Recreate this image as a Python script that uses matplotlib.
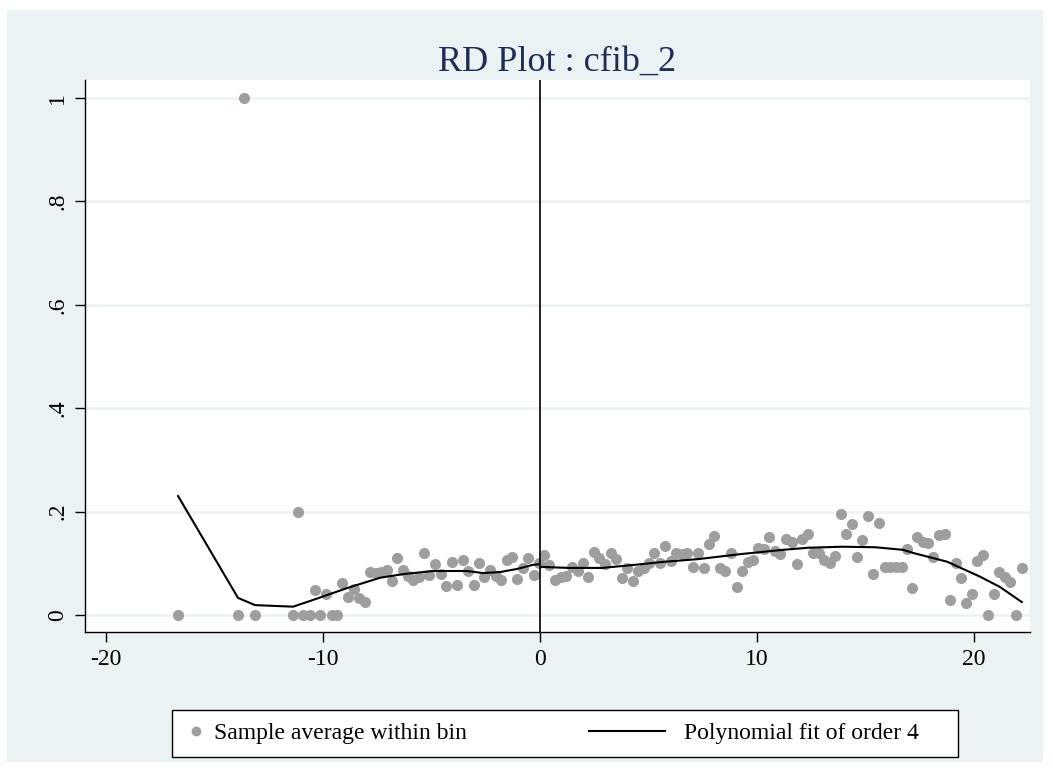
import matplotlib.pyplot as plt
from matplotlib.patches import Rectangle
from matplotlib.lines import Line2D

plt.rcParams["font.family"] = ["Liberation Serif", "DejaVu Serif"]
plt.rcParams["axes.unicode_minus"] = False

# ------------------------
# Bin averages of cfib_2 by running variable
# ------------------------
bin_x = [
    -16.68, -13.92, -13.64, -13.13, -11.38, -11.15, -10.92, -10.60, -10.37, -10.14,
    -9.86, -9.59, -9.35, -9.12, -8.85, -8.57, -8.34, -8.06, -7.83, -7.56,
    -7.33, -7.05, -6.82, -6.59, -6.31, -6.08, -5.85, -5.58, -5.35, -5.12,
    -4.84, -4.56, -4.33, -4.06, -3.82, -3.55, -3.32, -3.04, -2.81, -2.58,
    -2.30, -2.03, -1.80, -1.52, -1.29, -1.06, -0.78, -0.55, -0.28, -0.05,
    0.18, 0.41, 0.69, 0.97, 1.20, 1.47, 1.75, 1.98, 2.21, 2.49,
    2.72, 3.00, 3.27, 3.50, 3.78, 4.01, 4.29, 4.52, 4.79, 5.02,
    5.25, 5.53, 5.76, 6.04, 6.27, 6.54, 6.77, 7.05, 7.28, 7.56,
    7.79, 8.02, 8.29, 8.53, 8.80, 9.08, 9.31, 9.59, 9.82, 10.05,
    10.32, 10.55, 10.83, 11.06, 11.34, 11.61, 11.84, 12.07, 12.35, 12.58,
    12.86, 13.09, 13.36, 13.59, 13.87, 14.10, 14.38, 14.61, 14.84, 15.12,
    15.35, 15.62, 15.90, 16.13, 16.41, 16.68, 16.91, 17.14, 17.37, 17.65,
    17.88, 18.11, 18.39, 18.66, 18.89, 19.17, 19.40, 19.63, 19.91, 20.14,
    20.41, 20.65, 20.92, 21.15, 21.43, 21.66, 21.94, 22.21,
]
bin_y = [
    0.0, 0.0, 1.0, 0.0, 0.0, 0.2, 0.0, 0.0, 0.048, 0.0,
    0.041, 0.0, 0.0, 0.062, 0.035, 0.050, 0.033, 0.025, 0.083, 0.081,
    0.083, 0.087, 0.066, 0.110, 0.087, 0.075, 0.068, 0.073, 0.120, 0.077,
    0.099, 0.079, 0.056, 0.103, 0.058, 0.106, 0.085, 0.058, 0.101, 0.073,
    0.087, 0.075, 0.068, 0.106, 0.112, 0.070, 0.091, 0.110, 0.077, 0.101,
    0.116, 0.097, 0.068, 0.074, 0.075, 0.093, 0.085, 0.101, 0.073, 0.122,
    0.110, 0.099, 0.120, 0.108, 0.072, 0.091, 0.066, 0.085, 0.091, 0.101,
    0.120, 0.101, 0.133, 0.104, 0.120, 0.118, 0.120, 0.093, 0.120, 0.091,
    0.137, 0.153, 0.091, 0.085, 0.120, 0.054, 0.085, 0.103, 0.106, 0.130,
    0.128, 0.151, 0.124, 0.118, 0.147, 0.141, 0.099, 0.147, 0.157, 0.120,
    0.120, 0.106, 0.101, 0.114, 0.195, 0.157, 0.176, 0.112, 0.145, 0.191,
    0.079, 0.178, 0.093, 0.093, 0.093, 0.093, 0.128, 0.052, 0.151, 0.141,
    0.139, 0.112, 0.155, 0.157, 0.029, 0.101, 0.072, 0.023, 0.041, 0.104,
    0.116, 0.0, 0.041, 0.083, 0.074, 0.064, 0.0, 0.091,
]

# Polynomial fit (order 4) on each side of the cutoff
fit_x_left = [-16.68, -13.92, -13.13, -11.38, -10.46, -8.89, -7.37, -6.31,
              -4.93, -3.36, -2.63, -1.84, -1.06, -0.32, -0.05]
fit_y_left = [0.230, 0.033, 0.019, 0.016, 0.029, 0.052, 0.072, 0.079,
              0.085, 0.085, 0.081, 0.083, 0.089, 0.097, 0.098]
fit_x_right = [0.05, 1.29, 2.86, 4.38, 5.76, 7.28, 9.31, 11.2, 12.35,
               13.92, 15.44, 16.73, 17.19, 18.76, 20.28, 21.2, 22.2]
fit_y_right = [0.093, 0.091, 0.091, 0.097, 0.103, 0.108, 0.118, 0.126, 0.130,
               0.132, 0.131, 0.126, 0.120, 0.103, 0.074, 0.054, 0.025]

xticks = [-20, -10, 0, 10, 20]
yticks = [0, 0.2, 0.4, 0.6, 0.8, 1.0]
ytick_labels = ["0", ".2", ".4", ".6", ".8", "1"]

bg = "#EAF2F3"
dot_color = "#9E9E9E"

W, H = 1053, 772
fig = plt.figure(figsize=(W / 100, H / 100), dpi=100)
fig.patch.set_facecolor("white")
fig.add_artist(Rectangle((7 / W, 10 / H), 1036 / W, 752 / H,
                         transform=fig.transFigure, facecolor=bg,
                         edgecolor="none", zorder=-5))

ax = fig.add_axes([85 / W, 1 - 632 / H, 945 / W, 552 / H])
ax.set_facecolor("white")

ax.scatter(bin_x, bin_y, s=64, color=dot_color, linewidths=0, zorder=3)
ax.plot(fit_x_left, fit_y_left, color="black", lw=1.5, zorder=4)
ax.plot(fit_x_right, fit_y_right, color="black", lw=1.5, zorder=4)
ax.axvline(0, color="black", lw=1.2, zorder=5)

ax.set_xlim(-20.97, 22.58)
ax.set_ylim(-0.033, 1.035)
ax.set_xticks(xticks)
ax.set_yticks(yticks, ytick_labels)
for lab in ax.get_yticklabels():
    lab.set_rotation(90)
    lab.set_va("center")

ax.yaxis.grid(True, color=bg, lw=1.8)
ax.set_axisbelow(True)
for side in ["top", "right"]:
    ax.spines[side].set_visible(False)
for side in ["left", "bottom"]:
    ax.spines[side].set_linewidth(1.0)
ax.tick_params(direction="out", length=7, width=1, labelsize=17, pad=5)

fig.text(557 / W, 1 - 62 / H, "RD Plot : cfib_2", ha="center", va="center",
         fontsize=26, color="#1F2D55")

# ------------------------
# Legend box under the plot
# ------------------------
fig.add_artist(Rectangle((172 / W, 1 - 757 / H), 786 / W, 47 / H,
                         transform=fig.transFigure, facecolor="white",
                         edgecolor="black", lw=1.0, zorder=2))
dot_handle = Line2D([], [], marker="o", ls="none", color=dot_color, markersize=6)
line_handle = Line2D([], [], color="black", lw=1.5)
leg1 = fig.legend([dot_handle], ["Sample average within bin"], loc="center left",
                  bbox_to_anchor=(168 / W, 1 - 733.5 / H), frameon=False,
                  fontsize=17, handlelength=0.6, handletextpad=0.45)
leg2 = fig.legend([line_handle], ["Polynomial fit of order 4"], loc="center left",
                  bbox_to_anchor=(568 / W, 1 - 733.5 / H), frameon=False,
                  fontsize=17, handlelength=3.2, handletextpad=0.8)
leg1.set_zorder(3)
leg2.set_zorder(3)

fig.savefig("out.png", dpi=100)
